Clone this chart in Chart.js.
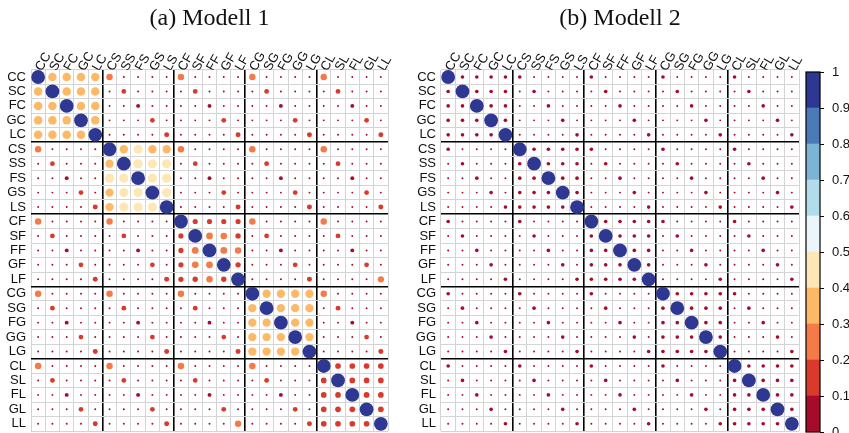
<!DOCTYPE html>
<html>
<head>
<meta charset="utf-8">
<script src="https://cdn.jsdelivr.net/npm/chart.js@4.4.0/dist/chart.umd.min.js"></script>
<style>
  body { margin: 0; background: #fff; }
  #wrap { position: relative; width: 849px; height: 433px; }
  .box { position: absolute; top: 0; height: 433px; }
</style>
</head>
<body>
<div id="wrap">
  <div class="box" style="left:0;width:400px"><canvas id="m1"></canvas></div>
  <div class="box" style="left:400px;width:412px"><canvas id="m2"></canvas></div>
  <div class="box" style="left:800px;width:49px"><canvas id="bar"></canvas></div>
</div>
<script>
var labels = ['CC','SC','FC','GC','LC','CS','SS','FS','GS','LS','CF','SF','FF','GF','LF',
              'CG','SG','FG','GG','LG','CL','SL','FL','GL','LL'];

// Modell 1
var modell1 = [
  [1,.38,.38,.38,.38, .22,.02,.02,.02,.02, .22,.02,.02,.02,.02, .22,.02,.02,.02,.02, .22,.02,.02,.02,.02],
  [.38,1,.38,.38,.38, .02,.12,.02,.02,.02, .02,.12,.02,.02,.02, .02,.12,.02,.02,.02, .02,.12,.02,.02,.02],
  [.38,.38,1,.38,.38, .02,.02,.08,.02,.02, .02,.02,.08,.02,.02, .02,.02,.08,.02,.02, .02,.02,.08,.02,.02],
  [.38,.38,.38,1,.38, .02,.02,.02,.12,.02, .02,.02,.02,.12,.02, .02,.02,.02,.12,.02, .02,.02,.02,.12,.02],
  [.38,.38,.38,.38,1, .02,.02,.02,.02,.13, .02,.02,.02,.02,.13, .02,.02,.02,.02,.13, .02,.02,.02,.02,.13],
  [.22,.02,.02,.02,.02, 1,.36,.44,.36,.36, .22,.02,.02,.02,.02, .22,.02,.02,.02,.02, .22,.02,.02,.02,.02],
  [.02,.12,.02,.02,.02, .36,1,.44,.44,.44, .02,.12,.02,.02,.02, .02,.12,.02,.02,.02, .02,.12,.02,.02,.02],
  [.02,.02,.08,.02,.02, .44,.44,1,.44,.44, .02,.02,.08,.02,.02, .02,.02,.08,.02,.02, .02,.02,.08,.02,.02],
  [.02,.02,.02,.12,.02, .36,.44,.44,1,.44, .02,.02,.02,.12,.02, .02,.02,.02,.12,.02, .02,.02,.02,.12,.02],
  [.02,.02,.02,.02,.13, .36,.44,.44,.44,1, .02,.02,.02,.02,.13, .02,.02,.02,.02,.13, .02,.02,.02,.02,.13],
  [.22,.02,.02,.02,.02, .22,.02,.02,.02,.02, 1,.14,.14,.14,.14, .22,.02,.02,.02,.02, .22,.02,.02,.02,.02],
  [.02,.12,.02,.02,.02, .02,.12,.02,.02,.02, .14,1,.24,.23,.15, .02,.12,.02,.02,.02, .02,.12,.02,.02,.02],
  [.02,.02,.08,.02,.02, .02,.02,.08,.02,.02, .14,.24,1,.24,.22, .02,.02,.08,.02,.02, .02,.02,.08,.02,.02],
  [.02,.02,.02,.12,.02, .02,.02,.02,.12,.02, .14,.23,.24,1,.15, .02,.02,.02,.12,.02, .02,.02,.02,.12,.02],
  [.02,.02,.02,.02,.13, .02,.02,.02,.02,.13, .14,.15,.22,.15,1, .02,.02,.02,.02,.13, .02,.02,.02,.02,.21],
  [.22,.02,.02,.02,.02, .22,.02,.02,.02,.02, .22,.02,.02,.02,.02, 1,.36,.36,.36,.36, .22,.02,.02,.02,.02],
  [.02,.12,.02,.02,.02, .02,.12,.02,.02,.02, .02,.12,.02,.02,.02, .36,1,.36,.36,.36, .02,.12,.02,.02,.02],
  [.02,.02,.08,.02,.02, .02,.02,.08,.02,.02, .02,.02,.08,.02,.02, .36,.36,1,.36,.36, .02,.02,.08,.02,.02],
  [.02,.02,.02,.12,.02, .02,.02,.02,.12,.02, .02,.02,.02,.12,.02, .36,.36,.36,1,.36, .02,.02,.02,.12,.02],
  [.02,.02,.02,.02,.13, .02,.02,.02,.02,.13, .02,.02,.02,.02,.13, .36,.36,.36,.36,1, .02,.02,.02,.02,.13],
  [.22,.02,.02,.02,.02, .22,.02,.02,.02,.02, .22,.02,.02,.02,.02, .22,.02,.02,.02,.02, 1,.17,.17,.17,.17],
  [.02,.12,.02,.02,.02, .02,.12,.02,.02,.02, .02,.12,.02,.02,.02, .02,.12,.02,.02,.02, .17,1,.17,.17,.17],
  [.02,.02,.08,.02,.02, .02,.02,.08,.02,.02, .02,.02,.08,.02,.02, .02,.02,.08,.02,.02, .17,.17,1,.17,.17],
  [.02,.02,.02,.12,.02, .02,.02,.02,.12,.02, .02,.02,.02,.12,.02, .02,.02,.02,.12,.02, .17,.17,.17,1,.17],
  [.02,.02,.02,.02,.13, .02,.02,.02,.02,.13, .02,.02,.02,.02,.21, .02,.02,.02,.02,.13, .17,.17,.17,.17,1]
];

// Modell 2
var modell2 = [
  [1,.07,.07,.07,.07, .07,.02,.02,.02,.02, .07,.02,.02,.02,.02, .07,.02,.02,.02,.02, .07,.02,.02,.02,.02],
  [.07,1,.07,.07,.07, .02,.07,.02,.02,.02, .02,.07,.02,.02,.02, .02,.07,.02,.02,.02, .02,.07,.02,.02,.02],
  [.07,.07,1,.07,.07, .02,.02,.07,.02,.02, .02,.02,.07,.02,.02, .02,.02,.07,.02,.02, .02,.02,.07,.02,.02],
  [.07,.07,.07,1,.07, .02,.02,.02,.07,.02, .02,.02,.02,.07,.02, .02,.02,.02,.07,.02, .02,.02,.02,.07,.02],
  [.07,.07,.07,.07,1, .02,.02,.02,.02,.07, .02,.02,.02,.02,.07, .02,.02,.02,.02,.07, .02,.02,.02,.02,.07],
  [.07,.02,.02,.02,.02, 1,.07,.07,.07,.07, .07,.02,.02,.02,.02, .07,.02,.02,.02,.02, .07,.02,.02,.02,.02],
  [.02,.07,.02,.02,.02, .07,1,.07,.07,.07, .02,.07,.02,.02,.02, .02,.07,.02,.02,.02, .02,.07,.02,.02,.02],
  [.02,.02,.07,.02,.02, .07,.07,1,.07,.07, .02,.02,.07,.02,.02, .02,.02,.07,.02,.02, .02,.02,.07,.02,.02],
  [.02,.02,.02,.07,.02, .07,.07,.07,1,.07, .02,.02,.02,.07,.02, .02,.02,.02,.07,.02, .02,.02,.02,.07,.02],
  [.02,.02,.02,.02,.07, .07,.07,.07,.07,1, .02,.02,.02,.02,.07, .02,.02,.02,.02,.07, .02,.02,.02,.02,.07],
  [.07,.02,.02,.02,.02, .07,.02,.02,.02,.02, 1,.07,.07,.07,.07, .07,.02,.02,.02,.02, .07,.02,.02,.02,.02],
  [.02,.07,.02,.02,.02, .02,.07,.02,.02,.02, .07,1,.07,.07,.07, .02,.07,.02,.02,.02, .02,.07,.02,.02,.02],
  [.02,.02,.07,.02,.02, .02,.02,.07,.02,.02, .07,.07,1,.07,.07, .02,.02,.07,.02,.02, .02,.02,.07,.02,.02],
  [.02,.02,.02,.07,.02, .02,.02,.02,.07,.02, .07,.07,.07,1,.07, .02,.02,.02,.07,.02, .02,.02,.02,.07,.02],
  [.02,.02,.02,.02,.07, .02,.02,.02,.02,.07, .07,.07,.07,.07,1, .02,.02,.02,.02,.07, .02,.02,.02,.02,.07],
  [.07,.02,.02,.02,.02, .07,.02,.02,.02,.02, .07,.02,.02,.02,.02, 1,.07,.07,.07,.07, .07,.02,.02,.02,.02],
  [.02,.07,.02,.02,.02, .02,.07,.02,.02,.02, .02,.07,.02,.02,.02, .07,1,.07,.07,.07, .02,.07,.02,.02,.02],
  [.02,.02,.07,.02,.02, .02,.02,.07,.02,.02, .02,.02,.07,.02,.02, .07,.07,1,.07,.07, .02,.02,.07,.02,.02],
  [.02,.02,.02,.07,.02, .02,.02,.02,.07,.02, .02,.02,.02,.07,.02, .07,.07,.07,1,.07, .02,.02,.02,.07,.02],
  [.02,.02,.02,.02,.07, .02,.02,.02,.02,.07, .02,.02,.02,.02,.07, .07,.07,.07,.07,1, .02,.02,.02,.02,.07],
  [.07,.02,.02,.02,.02, .07,.02,.02,.02,.02, .07,.02,.02,.02,.02, .07,.02,.02,.02,.02, 1,.07,.07,.07,.07],
  [.02,.07,.02,.02,.02, .02,.07,.02,.02,.02, .02,.07,.02,.02,.02, .02,.07,.02,.02,.02, .07,1,.07,.07,.07],
  [.02,.02,.07,.02,.02, .02,.02,.07,.02,.02, .02,.02,.07,.02,.02, .02,.02,.07,.02,.02, .07,.07,1,.07,.07],
  [.02,.02,.02,.07,.02, .02,.02,.02,.07,.02, .02,.02,.02,.07,.02, .02,.02,.02,.07,.02, .07,.07,.07,1,.07],
  [.02,.02,.02,.02,.07, .02,.02,.02,.02,.07, .02,.02,.02,.02,.07, .02,.02,.02,.02,.07, .07,.07,.07,.07,1]
];

// colour bins of the legend, 0 -> 1
var binEdges = [0, .1, .2, .3, .4, .5, .6, .7, .8, .9, 1];
var binColors = ['#A70B2A','#D93A2C','#F47A48','#FDB966','#FEE7B6',
                 '#EAF6F9','#B3DCEB','#7CB4D6','#4A7AB7','#2E3791'];

var titles = ['(a) Modell 1', '(b) Modell 2'];

function colorFor(v) {
    var k = Math.min(Math.floor(v * 10), 9);
    return binColors[k];
}

function toPoints(m) {
    var pts = [];
    for (var i = 0; i < m.length; i++) {
        for (var j = 0; j < m[i].length; j++) {
            var v = m[i][j];
            pts.push({x: labels[j], y: labels[i], r: 6.9 * Math.sqrt(v), v: v});
        }
    }
    return pts;
}

function gridColor(ctx) {
    return (ctx.index % 5 === 0 && ctx.index > 0 && ctx.index < 25) ? '#000' : '#d4d4d4';
}
function gridWidth(ctx) {
    return (ctx.index % 5 === 0 && ctx.index > 0 && ctx.index < 25) ? 1.6 : 1;
}

var labelFont = {family: '"Liberation Sans", Arial, sans-serif', size: 13};

function makeMatrix(id, m, title, yWidth, padRight) {
    new Chart(document.getElementById(id), {
        type: 'bubble',
        data: {
            datasets: [{
                data: toPoints(m),
                backgroundColor: function (ctx) { return ctx.raw ? colorFor(ctx.raw.v) : '#000'; },
                borderWidth: 0,
                clip: false
            }]
        },
        options: {
            responsive: true,
            maintainAspectRatio: false,
            animation: false,
            events: [],
            layout: {autoPadding: false, padding: {left: 0, right: padRight, top: 0, bottom: 2}},
            plugins: {
                legend: {display: false},
                tooltip: {enabled: false},
                title: {
                    display: true,
                    text: title,
                    fullSize: false,
                    color: '#111',
                    font: {family: '"Liberation Serif", "Times New Roman", serif', size: 24, weight: 'normal'},
                    padding: {top: 4, bottom: 0}
                }
            },
            scales: {
                x: {
                    type: 'category',
                    labels: labels,
                    position: 'top',
                    offset: true,
                    afterFit: function (s) {
                        s.height = 37;
                        s.paddingLeft = 0; s.paddingRight = 0;
                    },
                    grid: {offset: true, color: gridColor, lineWidth: gridWidth, drawTicks: false},
                    border: {display: false},
                    ticks: {
                        autoSkip: false, minRotation: 60, maxRotation: 60, padding: -4, labelOffset: 14,
                        color: '#111', font: labelFont
                    }
                },
                y: {
                    type: 'category',
                    labels: labels,
                    offset: true,
                    afterFit: function (s) {
                        s.width = yWidth;
                        s.paddingTop = 0; s.paddingBottom = 0;
                    },
                    grid: {offset: true, color: gridColor, lineWidth: gridWidth, drawTicks: false},
                    border: {display: false},
                    ticks: {autoSkip: false, padding: 5, color: '#111', font: labelFont}
                }
            }
        }
    });
}

makeMatrix('m1', modell1, titles[0], 31, 12);
makeMatrix('m2', modell2, titles[1], 41, 13);

// legend bar
var frame = {
    id: 'frame',
    afterDatasetsDraw: function (chart) {
        var a = chart.chartArea, c = chart.ctx;
        c.save();
        c.strokeStyle = '#000';
        c.lineWidth = 1.2;
        c.strokeRect(a.left, a.top, a.right - a.left, a.bottom - a.top);
        c.restore();
    }
};

var barSets = [];
for (var k = 0; k < binColors.length; k++) {
    barSets.push({data: [[binEdges[k], binEdges[k + 1]]], backgroundColor: binColors[k],
                  barPercentage: 1, categoryPercentage: 1, grouped: false});
}

new Chart(document.getElementById('bar'), {
    type: 'bar',
    data: {labels: [''], datasets: barSets},
    options: {
        responsive: true,
        maintainAspectRatio: false,
        animation: false,
        events: [],
        layout: {padding: {left: 6, right: 0, top: 72, bottom: 1}},
        plugins: {legend: {display: false}, tooltip: {enabled: false}},
        scales: {
            x: {display: false},
            y: {
                position: 'right',
                min: 0, max: 1,
                afterFit: function (s) {
                    s.width = 29;
                    s.paddingTop = 0; s.paddingBottom = 0;
                },
                grid: {drawOnChartArea: false, color: '#000', tickLength: 4},
                border: {display: false},
                ticks: {
                    stepSize: 0.1, padding: 8, color: '#111', font: labelFont,
                    callback: function (v) { return String(Math.round(v * 10) / 10); }
                }
            }
        }
    },
    plugins: [frame]
});
</script>
</body>
</html>
